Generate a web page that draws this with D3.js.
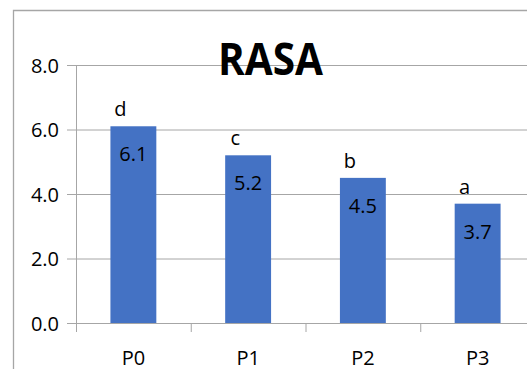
<!DOCTYPE html>
<html>

<head>
  <title>RASA</title>
  <script src="https://cdn.jsdelivr.net/npm/d3@7"></script>
  <style>
    body { margin: 0; background: #fff; }
    text { font-family: 'Open Sans', 'Liberation Sans', sans-serif; fill: #000; }
  </style>
</head>

<body>
  <svg width="527" height="369" id="mainsvg"></svg>

  <script>
    // data
    const categories = ['P0', 'P1', 'P2', 'P3'];
    const values = [6.1, 5.2, 4.5, 3.7];
    const letters = ['d', 'c', 'b', 'a'];
    const yTicks = [0, 2, 4, 6, 8];

    const svg = d3.select('#mainsvg');
    const margin = { top: 65, left: 76, bottom: 46 };
    const innerHeight = 369 - margin.top - margin.bottom;
    const innerWidth = 459; // plot runs past the right edge of the window

    // outer chart border (only left and top visible)
    svg.append('path')
      .attr('d', 'M13.5,369 V10.5 H527')
      .attr('fill', 'none').attr('stroke', '#a6a6a6').attr('stroke-width', 1.3);

    const g = svg.append('g').attr('transform', `translate(${margin.left}, ${margin.top})`);

    const xScale = d3.scaleBand().domain(categories).range([0, innerWidth])
      .paddingInner(0.6).paddingOuter(0.3);
    const yScale = d3.scaleLinear().domain([0, 8]).range([innerHeight, 0]);

    // gridlines + y axis
    const yAxis = d3.axisLeft(yScale).tickValues(yTicks).tickFormat(d3.format('.1f'))
      .tickSize(-innerWidth).tickPadding(17);
    const yG = g.append('g').call(yAxis);
    yG.select('.domain').remove();
    yG.selectAll('.tick line').attr('stroke', '#a6a6a6').attr('x1', -9);
    yG.selectAll('.tick text').attr('font-size', '20px').attr('dy', '0.36em');
    g.append('line').attr('x1', 0.5).attr('x2', 0.5).attr('y1', 0).attr('y2', innerHeight + 9)
      .attr('stroke', '#a6a6a6');

    // bars
    g.selectAll('rect.bar').data(values).join('rect').attr('class', 'bar')
      .attr('x', (d, i) => xScale(categories[i]))
      .attr('y', d => yScale(d))
      .attr('width', xScale.bandwidth())
      .attr('height', d => innerHeight - yScale(d))
      .attr('fill', '#4472c4');

    // x axis with ticks between categories
    const bounds = d3.range(categories.length + 1).map(i => i * xScale.step());
    g.selectAll('line.xt').data(bounds).join('line').attr('class', 'xt')
      .attr('x1', d => d + 0.5).attr('x2', d => d + 0.5)
      .attr('y1', innerHeight).attr('y2', innerHeight + 9).attr('stroke', '#a6a6a6');
    g.append('line').attr('x1', -9).attr('x2', innerWidth)
      .attr('y1', innerHeight + 0.5).attr('y2', innerHeight + 0.5).attr('stroke', '#a6a6a6');
    g.selectAll('text.xl').data(categories).join('text').attr('class', 'xl')
      .attr('x', d => xScale(d) + xScale.bandwidth() / 2)
      .attr('y', innerHeight + 42)
      .attr('text-anchor', 'middle').attr('font-size', '20px')
      .text(d => d);

    // value labels inside bars
    g.selectAll('text.val').data(values).join('text').attr('class', 'val')
      .attr('x', (d, i) => xScale(categories[i]) + xScale.bandwidth() / 2)
      .attr('y', d => yScale(d) + 35)
      .attr('text-anchor', 'middle').attr('font-size', '20px')
      .text(d => d3.format('.1f')(d));

    // significance letters above bars
    g.selectAll('text.let').data(values).join('text').attr('class', 'let')
      .attr('x', (d, i) => xScale(categories[i]) + 10)
      .attr('y', d => yScale(d) - 10)
      .attr('text-anchor', 'middle').attr('font-size', '20px')
      .text((d, i) => letters[i]);

    // title
    svg.append('text').text('RASA')
      .attr('x', 270.5).attr('y', 75)
      .attr('text-anchor', 'middle').attr('font-size', '44px').attr('font-weight', 'bold')
      .attr('textLength', 105).attr('lengthAdjust', 'spacingAndGlyphs');
  </script>
</body>

</html>
